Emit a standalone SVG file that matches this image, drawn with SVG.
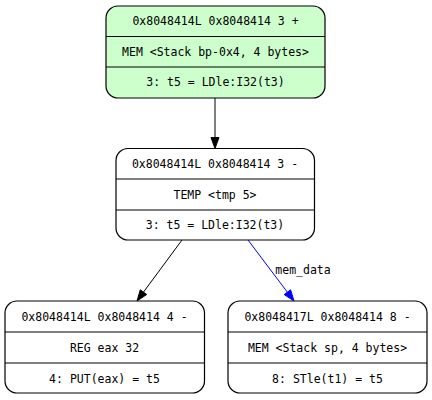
<svg xmlns="http://www.w3.org/2000/svg" width="432" height="400" viewBox="0 0 432 400">
<style>
  .box { stroke: #000; stroke-width: 1.2; }
  .div { stroke: #000; stroke-width: 1.2; fill: none; }
  text { font-family: "DejaVu Sans Mono", "Liberation Mono", monospace; font-size: 11.5px; text-anchor: middle; fill: #000; }
  .edge { stroke: #000; stroke-width: 1; fill: none; }
  .blue { stroke: #0000ff; }
</style>
<rect width="432" height="400" fill="#fff"/>
<g id="connectors">
  <line class="edge" x1="215" y1="98" x2="215" y2="137.5"/>
  <polygon points="211,137.5 215,148.5 219,137.5" fill="#000" stroke="#000"/>
  <line class="edge" x1="182" y1="240" x2="143.5" y2="292.1"/>
  <polygon points="146.7,294.5 137,301 140.3,289.8" fill="#000" stroke="#000"/>
  <line class="edge blue" x1="248" y1="240" x2="287.4" y2="292.2"/>
  <polygon points="284.2,294.6 294,301 290.6,289.8" fill="#0000ff" stroke="#0000ff"/>
  <text x="303" y="274">mem_data</text>
</g>
<g id="node_top">
  <rect class="box" x="106" y="6" width="219" height="92" rx="12" ry="12" fill="#ccffcc"/>
  <line class="div" x1="106" y1="36.5" x2="325" y2="36.5"/>
  <line class="div" x1="106" y1="67" x2="325" y2="67"/>
  <text x="215.5" y="25">0x8048414L 0x8048414 3 +</text>
  <text x="215.5" y="55.5">MEM &lt;Stack bp-0x4, 4 bytes&gt;</text>
  <text x="215.5" y="86">3: t5 = LDle:I32(t3)</text>
</g>
<g id="node_mid">
  <rect class="box" x="116" y="148.5" width="198.5" height="91.5" rx="12" ry="12" fill="#fff"/>
  <line class="div" x1="116" y1="179" x2="314.5" y2="179"/>
  <line class="div" x1="116" y1="210" x2="314.5" y2="210"/>
  <text x="215" y="167.5">0x8048414L 0x8048414 3 -</text>
  <text x="215" y="198.5">TEMP &lt;tmp 5&gt;</text>
  <text x="215" y="229">3: t5 = LDle:I32(t3)</text>
</g>
<g id="node_left">
  <rect class="box" x="5" y="301" width="199.5" height="92" rx="12" ry="12" fill="#fff"/>
  <line class="div" x1="5" y1="332" x2="204.5" y2="332"/>
  <line class="div" x1="5" y1="363" x2="204.5" y2="363"/>
  <text x="104.5" y="321">0x8048414L 0x8048414 4 -</text>
  <text x="104.5" y="351.5">REG eax 32</text>
  <text x="104.5" y="382.5">4: PUT(eax) = t5</text>
</g>
<g id="node_right">
  <rect class="box" x="228" y="301" width="199" height="92" rx="12" ry="12" fill="#fff"/>
  <line class="div" x1="228" y1="332" x2="427" y2="332"/>
  <line class="div" x1="228" y1="363" x2="427" y2="363"/>
  <text x="327.5" y="321">0x8048417L 0x8048414 8 -</text>
  <text x="327.5" y="351.5">MEM &lt;Stack sp, 4 bytes&gt;</text>
  <text x="327.5" y="382.5">8: STle(t1) = t5</text>
</g>
</svg>
